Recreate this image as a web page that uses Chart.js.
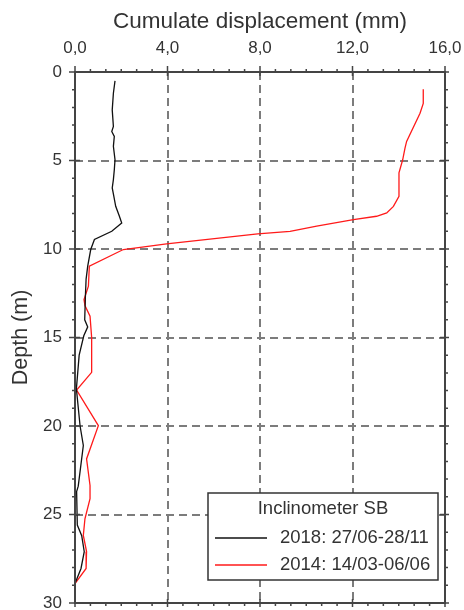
<!DOCTYPE html>
<html>
<head>
<meta charset="utf-8">
<script src="https://cdn.jsdelivr.net/npm/chart.js@4"></script>
<style>
  html, body { margin: 0; padding: 0; background: #fff; }
  #wrap { width: 464px; height: 610px; }
</style>
</head>
<body>
<div id="wrap"><canvas id="chart" width="464" height="610"></canvas></div>
<script>
// depth (m) and cumulate displacement (mm)
const depth2018 = [0.5, 1.2, 2.14, 3.08, 3.36, 3.64, 4.2, 4.96, 5.52, 6.08, 6.55, 7.02, 7.59, 8.15, 8.53, 9.0, 9.46, 10.03, 10.97, 11.7, 12.66, 14.0, 14.4, 14.9, 16.0, 17.9, 20.0, 21.1, 23.4, 23.7, 25.6, 26.2, 27.1, 28.05, 28.9];
const disp2018 = [1.73, 1.66, 1.61, 1.66, 1.59, 1.70, 1.66, 1.73, 1.70, 1.66, 1.61, 1.68, 1.76, 1.92, 2.02, 1.59, 0.84, 0.68, 0.55, 0.48, 0.45, 0.42, 0.55, 0.38, 0.18, 0.06, 0.22, 0.36, 0.14, 0.07, 0.10, 0.29, 0.40, 0.26, 0.0];

const depth2014 = [0.98, 1.77, 2.33, 3.92, 4.3, 4.96, 5.7, 7.02, 7.59, 7.96, 8.15, 8.34, 8.71, 9.0, 9.15, 9.71, 10.03, 10.97, 12.1, 12.85, 13.2, 13.8, 15.0, 16.97, 17.97, 19.98, 21.86, 23.36, 24.1, 25.24, 26.18, 27.1, 28.05, 28.9];
const disp2014 = [15.06, 15.06, 14.92, 14.34, 14.27, 14.17, 14.01, 14.01, 13.77, 13.48, 13.04, 12.04, 10.45, 9.3, 7.9, 3.96, 2.09, 0.62, 0.58, 0.39, 0.43, 0.65, 0.72, 0.72, 0.07, 1.01, 0.5, 0.65, 0.65, 0.43, 0.36, 0.5, 0.48, 0.0];

const seriesLabels = ['2018: 27/06-28/11', '2014: 14/03-06/06'];
const legendTitle = 'Inclinometer SB';
const xTickValues = [0, 4, 8, 12, 16];
const xTickLabels = ['0,0', '4,0', '8,0', '12,0', '16,0'];
const yTickValues = [0, 5, 10, 15, 20, 25, 30];
const yTickLabels = ['0', '5', '10', '15', '20', '25', '30'];

const FONT = 'Arial, "Liberation Sans", sans-serif';
const TXT = '#333';

function pts(depths, disps) {
    return depths.map((d, i) => ({ x: disps[i], y: d }));
}

// frame, small ticks and the boxed legend
const decor = {
    id: 'decor',
    afterDatasetsDraw(chart) {
        const { ctx, chartArea: a, scales: { x, y } } = chart;
        ctx.save();
        ctx.strokeStyle = '#444';
        ctx.lineWidth = 2;
        ctx.strokeRect(a.left, a.top, a.right - a.left, a.bottom - a.top);

        ctx.lineWidth = 1.5;
        ctx.beginPath();
        for (let k = 0; k <= 24; k++) {
            const px = x.getPixelForValue(k * 16 / 24);
            const major = k % 6 === 0;
            ctx.moveTo(px, a.top - (major ? 6 : 3));
            ctx.lineTo(px, a.top + (major ? 4 : 0));
            ctx.moveTo(px, a.bottom + (major ? 4 : 3));
            ctx.lineTo(px, a.bottom - (major ? 4 : 0));
        }
        for (let k = 0; k <= 30; k++) {
            const py = y.getPixelForValue(k);
            const major = k % 5 === 0;
            ctx.moveTo(a.left - (major ? 6 : 3), py);
            ctx.lineTo(a.left + (major ? 5 : 0), py);
            ctx.moveTo(a.right + (major ? 4 : 3), py);
            ctx.lineTo(a.right - (major ? 5 : 0), py);
        }
        ctx.stroke();

        // legend box
        const bx = 208, by = 493, bw = 230, bh = 87;
        ctx.fillStyle = '#fff';
        ctx.fillRect(bx, by, bw, bh);
        ctx.strokeStyle = '#333';
        ctx.lineWidth = 1.5;
        ctx.strokeRect(bx, by, bw, bh);
        ctx.fillStyle = TXT;
        ctx.font = '18.5px ' + FONT;
        ctx.textBaseline = 'middle';
        ctx.textAlign = 'center';
        ctx.fillText(legendTitle, bx + bw / 2, by + 16);
        ctx.textAlign = 'left';
        chart.data.datasets.forEach((ds, i) => {
            const ly = by + 45 + i * 27;
            ctx.strokeStyle = ds.borderColor;
            ctx.lineWidth = 1.5;
            ctx.beginPath();
            ctx.moveTo(bx + 7, ly);
            ctx.lineTo(bx + 59, ly);
            ctx.stroke();
            ctx.fillStyle = TXT;
            ctx.fillText(ds.label, bx + 72, ly);
        });
        ctx.restore();
    }
};

const gridColor = c => (c.tick && (c.tick.value === c.scale.min || c.tick.value === c.scale.max)) ? 'rgba(0,0,0,0)' : '#7c7c7c';

new Chart(document.getElementById('chart'), {
    type: 'scatter',
    data: {
        datasets: [
            { label: seriesLabels[0], data: pts(depth2018, disp2018), showLine: true, borderColor: '#111', borderWidth: 1.3, pointRadius: 0 },
            { label: seriesLabels[1], data: pts(depth2014, disp2014), showLine: true, borderColor: '#ff1a1a', borderWidth: 1.3, pointRadius: 0 }
        ]
    },
    options: {
        responsive: false,
        animation: false,
        layout: { padding: { left: 0, top: 0, right: 19, bottom: 7 } },
        plugins: { legend: { display: false }, tooltip: { enabled: false } },
        scales: {
            x: {
                type: 'linear', position: 'top', min: 0, max: 16,
                ticks: { stepSize: 4, padding: 13, color: TXT, font: { family: FONT, size: 17 }, callback: v => xTickLabels[xTickValues.indexOf(v)] },
                grid: { color: gridColor, lineWidth: 2, drawTicks: false },
                border: { display: false, dash: [8, 5] },
                title: { display: true, text: 'Cumulate displacement (mm)', color: TXT, font: { family: FONT, size: 22.5 }, padding: { top: 8, bottom: 0 } },
                afterFit: s => { s.height = 72; s.paddingLeft = 0; s.paddingRight = 0; }
            },
            y: {
                type: 'linear', reverse: true, min: 0, max: 30,
                ticks: { stepSize: 5, padding: 13, color: TXT, font: { family: FONT, size: 17 }, callback: v => yTickLabels[yTickValues.indexOf(v)] },
                grid: { color: gridColor, lineWidth: 2, drawTicks: false },
                border: { display: false, dash: [8, 5] },
                title: { display: true, text: 'Depth (m)', color: TXT, font: { family: FONT, size: 21.5 }, padding: { top: 8, bottom: 0 } },
                afterFit: s => { s.width = 75; s.paddingTop = 0; s.paddingBottom = 0; }
            }
        }
    },
    plugins: [decor]
});
</script>
</body>
</html>
